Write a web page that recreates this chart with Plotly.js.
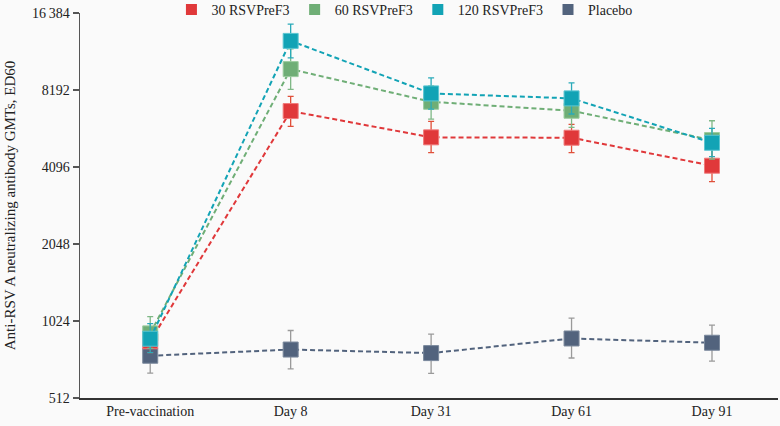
<!DOCTYPE html>
<html>
<head>
<meta charset="utf-8">
<script src="https://cdn.plot.ly/plotly-3.0.1.min.js"></script>
<style>html,body{margin:0;padding:0;background:#fafafa;}</style>
</head>
<body>
<div id="chart" style="width:780px;height:426px;"></div>
<script>
const categories = ["Pre-vaccination", "Day 8", "Day 31", "Day 61", "Day 91"];
const seriesNames = ["30 RSVPreF3", "60 RSVPreF3", "120 RSVPreF3", "Placebo"];

const gmt30 = [853, 6777, 5349, 5331, 4144];
const upper30 = [950, 7734, 6177, 6012, 4800];
const lower30 = [770, 5906, 4660, 4660, 3588];

const gmt60 = [916, 9886, 7368, 6796, 5220];
const upper60 = [1066, 11860, 8500, 7900, 6212];
const lower60 = [800, 8237, 6308, 5850, 4400];

const gmt120 = [873, 12745, 7944, 7596, 5095];
const upper120 = [1000, 14818, 9142, 8738, 5800];
const lower120 = [770, 10944, 6900, 6600, 4494];

const gmtPlacebo = [749, 792, 767, 875, 842];
const upperPlacebo = [860, 940, 910, 1051, 987];
const lowerPlacebo = [641, 665, 639, 734, 714];

const yTickVals = [512, 1024, 2048, 4096, 8192, 16384];
const yTickText = ["512", "1024", "2048", "4096", "8192", "16\u2009384"];

const FONT = "'Liberation Serif', 'Times New Roman', serif";
const colors = ["#e0383a", "#6fae76", "#12a3b5", "#52637d"];
const edgeColors = ["#f07a7a", "#9ccc9f", "#5cc6d2", "#7a889c"];
const errColors = ["#e0503a", "#7fb886", "#2aaab9", "#9a9a9a"];

const seriesData = [
  [gmt30, upper30, lower30],
  [gmt60, upper60, lower60],
  [gmt120, upper120, lower120],
  [gmtPlacebo, upperPlacebo, lowerPlacebo]
];
const drawOrder = [3, 0, 1, 2];

const traces = [];
drawOrder.forEach(function (i) {
  const g = seriesData[i][0], up = seriesData[i][1], lo = seriesData[i][2];
  traces.push({
    type: "scatter",
    mode: "lines+markers",
    x: categories,
    y: g,
    name: seriesNames[i],
    showlegend: false,
    line: {color: colors[i], dash: "5px,3px", width: 2},
    marker: {symbol: "square", size: 15, color: colors[i], line: {color: edgeColors[i], width: 1}},
    error_y: {
      type: "data", symmetric: false,
      array: up.map(function (u, k) { return u - g[k]; }),
      arrayminus: lo.map(function (l, k) { return g[k] - l; }),
      color: errColors[i], thickness: 1.3, width: 3
    }
  });
});
seriesNames.forEach(function (n, i) {
  traces.push({
    type: "scatter", mode: "markers", x: [null], y: [null], name: n,
    marker: {symbol: "square", size: 11, color: colors[i]},
    showlegend: true
  });
});

const layout = {
  width: 780, height: 426,
  margin: {l: 80, r: 2, t: 13, b: 28, autoexpand: false},
  paper_bgcolor: "#fafafa", plot_bgcolor: "#fafafa",
  font: {family: FONT, size: 14, color: "#222"},
  showlegend: true,
  legend: {orientation: "h", x: 0.131, xanchor: "left", y: 1.008, yanchor: "middle",
           font: {family: FONT, size: 14, color: "#222"}, bgcolor: "rgba(0,0,0,0)", itemwidth: 30, traceorder: "normal"},
  xaxis: {
    type: "category", range: [-0.5, 4.47],
    showline: true, linecolor: "#333", linewidth: 1.5,
    showgrid: false, zeroline: false, ticks: "",
    tickfont: {family: FONT, size: 14, color: "#222"}, fixedrange: true
  },
  yaxis: {
    type: "log", range: [Math.log10(512), Math.log10(16384)],
    tickvals: yTickVals, ticktext: yTickText,
    showline: true, linecolor: "#555", linewidth: 1.5,
    ticks: "outside", ticklen: 6, tickcolor: "#555", tickwidth: 1.2,
    showgrid: false, zeroline: false,
    tickfont: {family: FONT, size: 14, color: "#222"},
    title: {text: "Anti-RSV A neutralizing antibody GMTs, ED60", font: {family: FONT, size: 15, color: "#222"}, standoff: 12}
  }
};

Plotly.newPlot("chart", traces, layout, {displayModeBar: false, staticPlot: true});
</script>
</body>
</html>
